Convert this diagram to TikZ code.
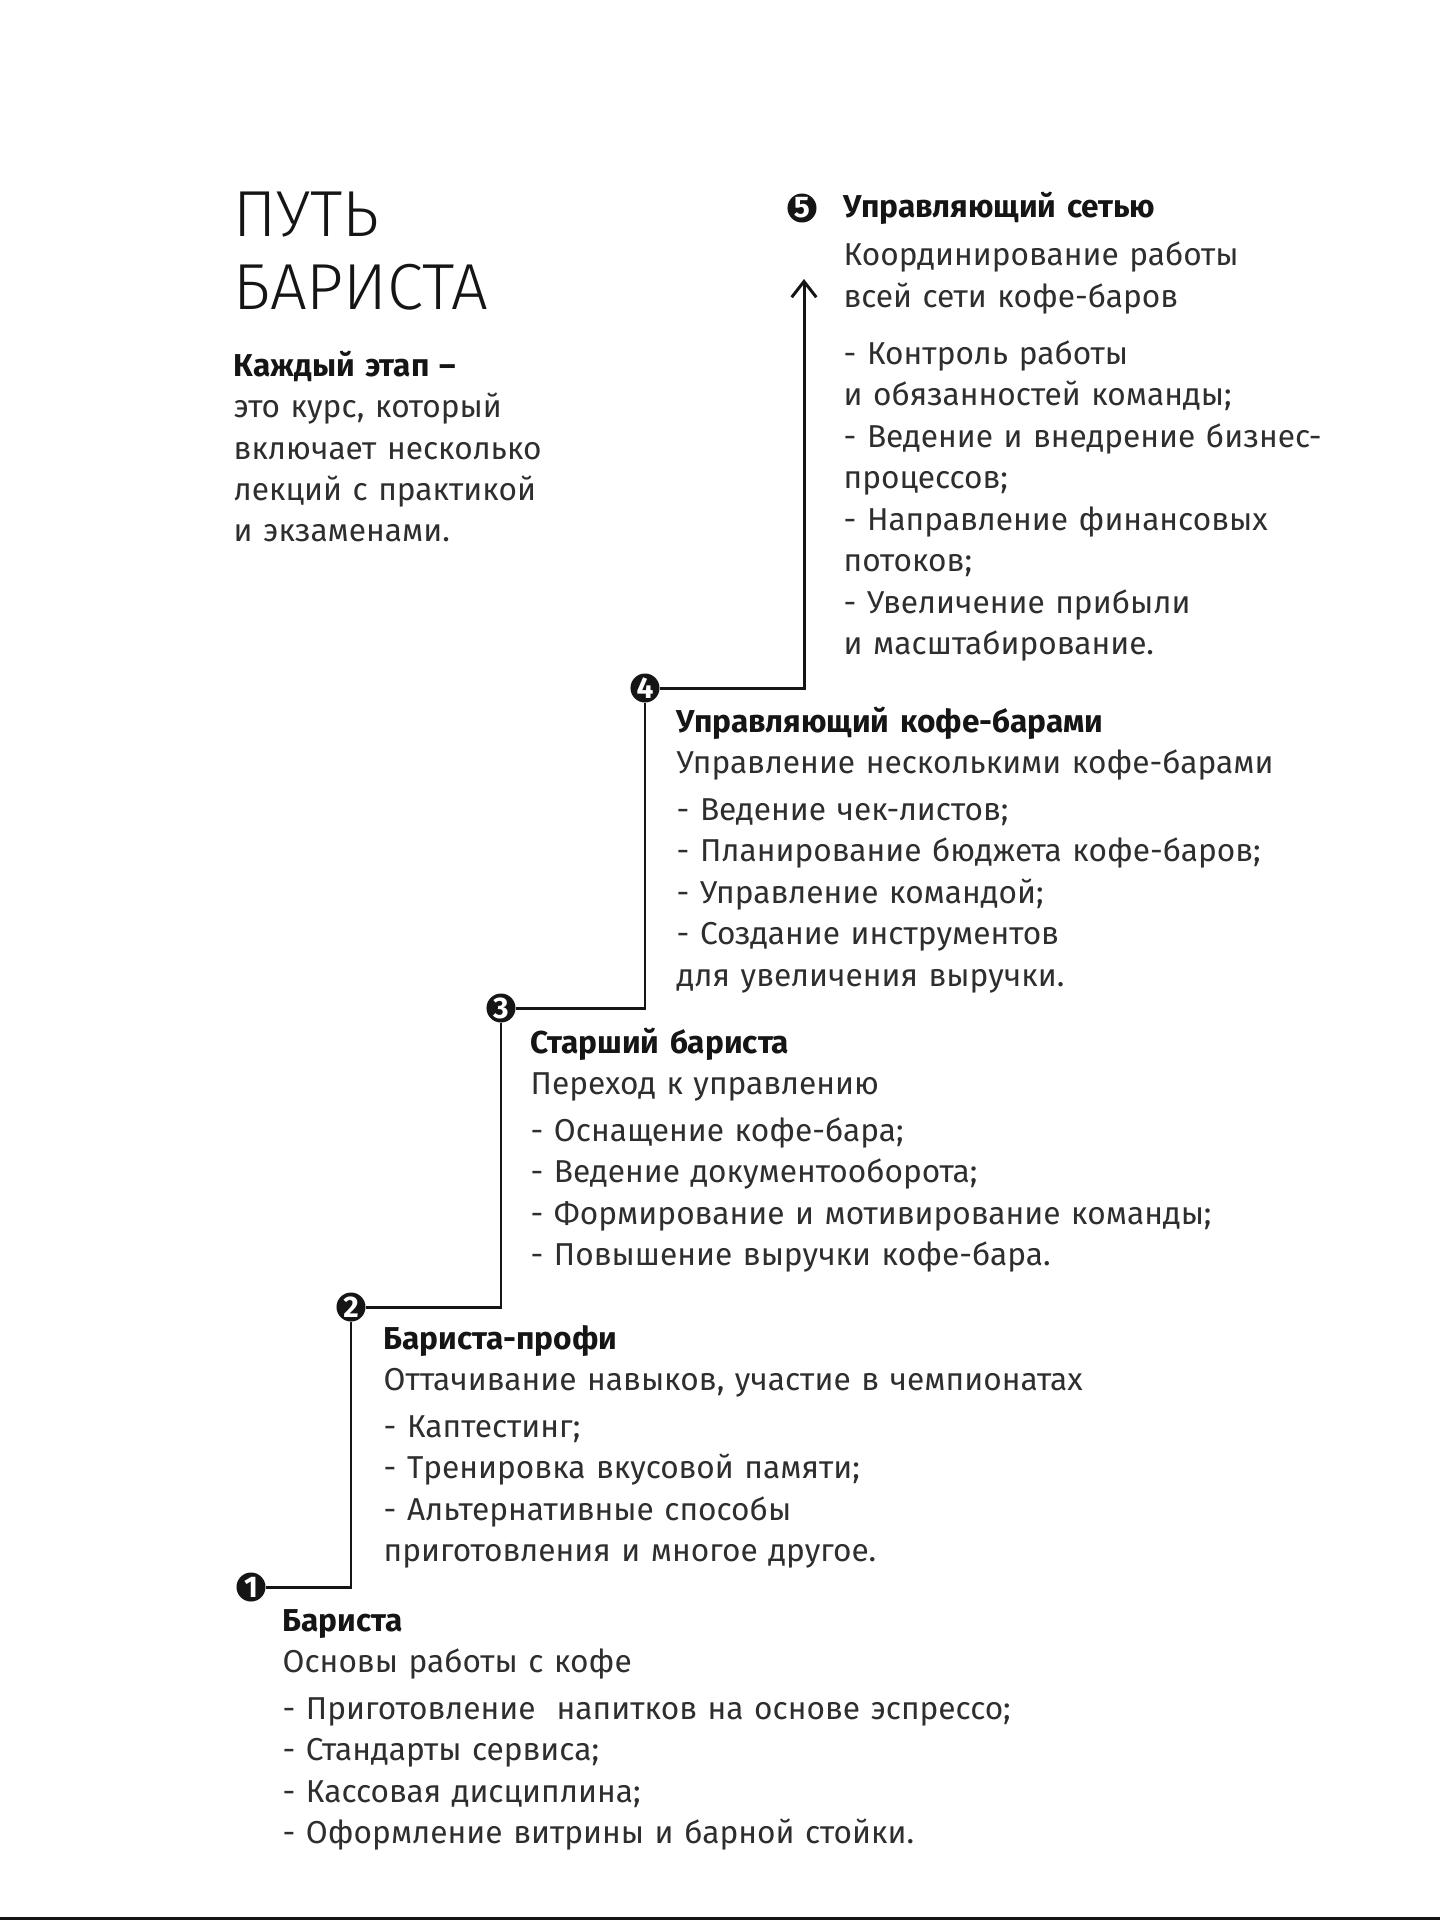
\documentclass[tikz,border=0pt]{standalone}
\usepackage{fontspec}
\setmainfont{Fira Sans}
\newfontfamily\titlefont{Fira Sans Light}
\usetikzlibrary{arrows.meta,positioning}
\definecolor{ink}{HTML}{151515}
\definecolor{grey}{HTML}{2E2E2E}
\tikzset{
  stepdot/.style={circle,fill=ink,text=white,inner sep=0pt,minimum size=0.29cm,
    font=\fontsize{8.5}{8.5}\selectfont\bfseries},
  stepline/.style={draw=ink,line width=0.85pt},
  stepbody/.style={anchor=base west,align=left,inner sep=0pt,text width=9cm,text=grey,
    font=\fontsize{9}{11.8}\selectfont},
}
\begin{document}
\begin{tikzpicture}[x=0.01cm,y=-0.01cm,>={Straight Barb[length=4.5pt,width=7pt]}]
\useasboundingbox (0,0) rectangle (1440,1920);
\fill[ink] (0,1917) rectangle (1440,1920);
% title and note
\node[anchor=base west,align=left,inner sep=0pt,text width=5cm,text=ink,
  font=\titlefont\fontsize{18.5}{21}\selectfont] (title) at (233,236) {ПУТЬ\\БАРИСТА};
\node[stepbody] (note) at (233,376)
  {\textbf{\color{ink}Каждый этап –}\\это курс, который\\включает несколько\\лекций с практикой\\и экзаменами.};
% the five steps
\foreach \n/\x/\y in {1/251/1587,2/351/1307,3/501/1008,4/645/688,5/802/208}
  {\node[stepdot] (c\n) at (\x,\y) {\n};}
\coordinate (top) at (804,279);
\foreach \a/\b in {1/2,2/3,3/4} {\draw[stepline] (c\a) -| (c\b);}
\draw[stepline,->] (c4) -| (top);
% texts of the steps
\node[stepbody] (s5) at (843,217)
  {\textbf{\color{ink}Управляющий сетью}\\[2pt]Координирование работы\\всей сети кофе-баров\\[4.5pt]
   - Контроль работы\\и обязанностей команды;\\- Ведение и внедрение бизнес-\\процессов;\\
   - Направление финансовых\\потоков;\\- Увеличение прибыли\\и масштабирование.};
\node[stepbody] (s4) at (676,732)
  {\textbf{\color{ink}Управляющий кофе-барами}\\Управление несколькими кофе-барами\\[1.5pt]
   - Ведение чек-листов;\\- Планирование бюджета кофе-баров;\\- Управление командой;\\
   - Создание инструментов\\для увеличения выручки.};
\node[stepbody] (s3) at (530,1053)
  {\textbf{\color{ink}Старший бариста}\\Переход к управлению\\[1.5pt]
   - Оснащение кофе-бара;\\- Ведение документооборота;\\- Формирование и мотивирование команды;\\
   - Повышение выручки кофе-бара.};
\node[stepbody] (s2) at (383,1349)
  {\textbf{\color{ink}Бариста-профи}\\Оттачивание навыков, участие в чемпионатах\\[1.5pt]
   - Каптестинг;\\- Тренировка вкусовой памяти;\\- Альтернативные способы\\приготовления и многое другое.};
\node[stepbody] (s1) at (282,1631)
  {\textbf{\color{ink}Бариста}\\Основы работы с кофе\\[1.5pt]
   - Приготовление\ \ напитков на основе эспрессо;\\- Стандарты сервиса;\\- Кассовая дисциплина;\\
   - Оформление витрины и барной стойки.};
\end{tikzpicture}
\end{document}
